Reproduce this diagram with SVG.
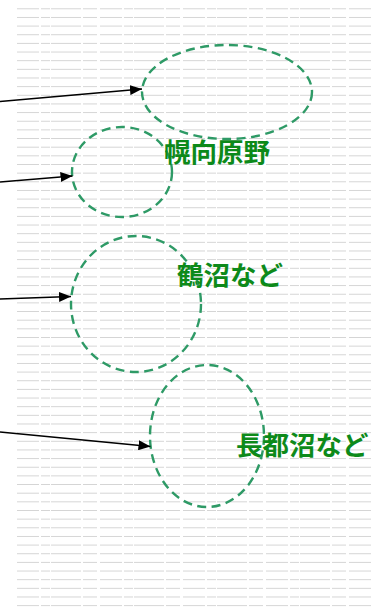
<svg xmlns="http://www.w3.org/2000/svg" width="372" height="608" viewBox="0 0 372 608">
  <style>
    .bg { fill: none; stroke: #d4d4d4; stroke-width: 1; stroke-dasharray: 22 2 9 1 30 2 14 3; }
    .area { fill: none; stroke: #2e9a66; stroke-width: 2.4; stroke-dasharray: 9 5.5; }
    .lbl { font-family: "Noto Sans CJK JP", "Noto Sans CJK SC", sans-serif; font-weight: bold; font-size: 26.5px; fill: #0d8a1a; }
    .conn { fill: none; stroke: #000; stroke-width: 1.4; }
  </style>
  <defs>
    <marker id="arr" viewBox="0 0 12 10" refX="12" refY="5" markerWidth="12" markerHeight="10" markerUnits="userSpaceOnUse" orient="auto">
      <path d="M0,0 L12,5 L0,10 Z" fill="#000"/>
    </marker>
    <pattern id="stripes" x="0" y="8.3" width="372" height="8.65" patternUnits="userSpaceOnUse">
      <line x1="17" y1="0.5" x2="372" y2="0.5" class="bg"/>
    </pattern>
  </defs>
  <rect width="372" height="608" fill="#fff"/>
  <rect x="0" y="7" width="372" height="600" fill="url(#stripes)"/>
  <g id="area-horomui-1"><ellipse cx="227" cy="92" rx="85" ry="47" class="area"/></g>
  <g id="area-horomui-2"><ellipse cx="122" cy="172" rx="50" ry="45" class="area"/></g>
  <g id="area-tsurunuma"><ellipse cx="136" cy="304" rx="65" ry="68" class="area"/></g>
  <g id="area-osatsu"><ellipse cx="207" cy="436" rx="57" ry="71" class="area"/></g>
  <g id="label-horomui"><text x="164" y="162" class="lbl">幌向原野</text></g>
  <g id="label-tsurunuma"><text x="177" y="285" class="lbl">鶴沼など</text></g>
  <g id="label-osatsu"><text x="236" y="455" class="lbl">長都沼など</text></g>
  <g id="connectors">
    <line x1="0" y1="101.5" x2="142" y2="89" class="conn" marker-end="url(#arr)"/>
    <line x1="0" y1="182" x2="72.5" y2="176" class="conn" marker-end="url(#arr)"/>
    <line x1="0" y1="299" x2="71" y2="296.5" class="conn" marker-end="url(#arr)"/>
    <line x1="0" y1="432" x2="150.5" y2="446.5" class="conn" marker-end="url(#arr)"/>
  </g>
</svg>
